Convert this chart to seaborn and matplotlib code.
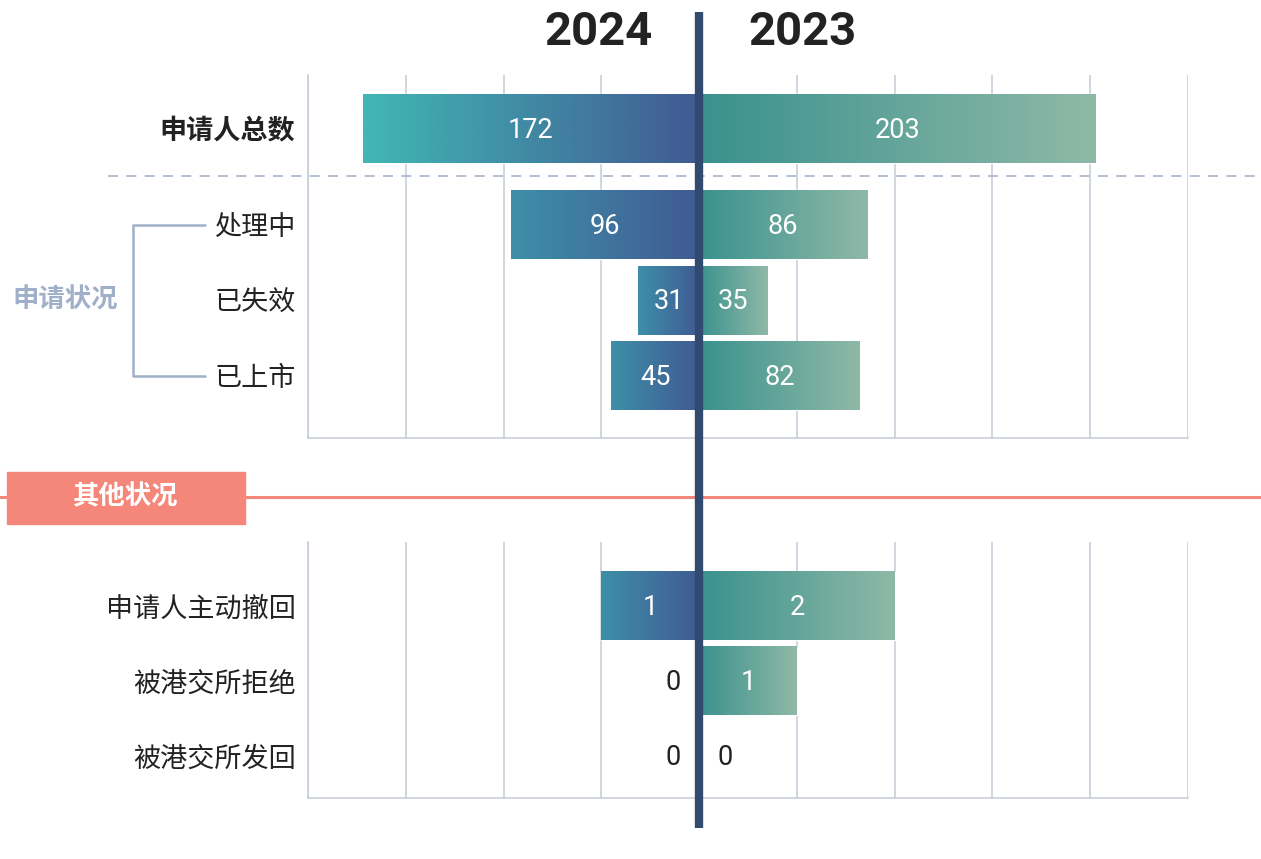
import numpy as np
import pandas as pd
import matplotlib.pyplot as plt
import matplotlib.transforms as mtransforms
from matplotlib.lines import Line2D
from matplotlib.patches import Rectangle
from matplotlib.colors import LinearSegmentedColormap
import seaborn as sns

# DATA
years = ["2024", "2023"]
top_labels = ["申请人总数", "处理中", "已失效", "已上市"]
top_pos = [0, 1.27, 2.27, 3.27]
top_2024 = [172, 96, 31, 45]
top_2023 = [203, 86, 35, 82]
group_label = "申请状况"

section2_title = "其他状况"
bottom_labels = ["申请人主动撤回", "被港交所拒绝", "被港交所发回"]
bottom_pos = [0, 1, 2]
bottom_2024 = [1, 0, 0]
bottom_2023 = [2, 1, 0]

# STYLE
sns.set_theme(style="white")
plt.rcParams["font.family"] = ["Roboto", "Noto Sans CJK SC", "DejaVu Sans"]

GRID = "#C3CAD7"
NAVY = "#314A70"
SALMON = "#F4877A"
GROUPC = "#9FB0C8"
TXT = "#222222"

left_top = LinearSegmentedColormap.from_list("lt", ["#41B7B4", "#415A93"])
left_cm = LinearSegmentedColormap.from_list("l", ["#3E8FA8", "#415A93"])
right_cm = LinearSegmentedColormap.from_list("r", ["#3A918E", "#8FB9A7"])

fig = plt.figure(figsize=(12.61, 8.59), dpi=100)
W, H = 1261, 859


def px_axes(x0, y0, x1, y1):
    return fig.add_axes([x0 / W, 1 - y1 / H, (x1 - x0) / W, (y1 - y0) / H])


ax_top = px_axes(308, 75, 1188, 438)
ax_bot = px_axes(308, 542, 1188, 798)


def draw_side(ax, pos, left_vals, right_vals, xlim, ticks, ylim, labels, top_first_cm=False):
    df_l = pd.DataFrame({"pos": pos, "val": [-v for v in left_vals]})
    df_r = pd.DataFrame({"pos": pos, "val": right_vals})
    sns.barplot(data=df_l, x="val", y="pos", orient="y", native_scale=True,
                width=0.91, color="#3E7FA0", errorbar=None, ax=ax)
    sns.barplot(data=df_r, x="val", y="pos", orient="y", native_scale=True,
                width=0.91, color="#5FA89D", errorbar=None, ax=ax)
    grad = np.linspace(0, 1, 256).reshape(1, -1)
    n = len(pos)
    for i, p in enumerate(ax.patches):
        bx, by, bw, bh = p.get_x(), p.get_y(), p.get_width(), p.get_height()
        if abs(bw) < 1e-9:
            continue
        x0, x1 = min(bx, bx + bw), max(bx, bx + bw)
        if i < n:
            cm = left_top if (top_first_cm and i == 0) else left_cm
        else:
            cm = right_cm
        ax.imshow(grad, cmap=cm, aspect="auto", extent=(x0, x1, by + bh, by),
                  zorder=p.get_zorder() + 0.1, interpolation="bicubic")
    # value labels
    for p_, lv, rv in zip(pos, left_vals, right_vals):
        for v, sgn in ((lv, -1), (rv, 1)):
            if v > 0:
                ax.text(sgn * v / 2, p_ + 0.02, str(v), color="white", ha="center",
                        va="center", fontsize=19.5, zorder=5)
            else:
                ax.annotate("0", (0, p_ + 0.02), xytext=(sgn * 13, 0), textcoords="offset points",
                            ha="left" if sgn > 0 else "right", va="center",
                            color=TXT, fontsize=19.5, zorder=5)
    ax.set_xlim(*xlim)
    ax.set_ylim(*ylim)
    ax.set_xticks(ticks)
    ax.set_xticklabels([])
    ax.grid(axis="x", color=GRID, lw=1.1)
    ax.grid(axis="y", visible=False)
    ax.set_axisbelow(True)
    for s in ("top", "right"):
        ax.spines[s].set_visible(False)
    for s in ("left", "bottom"):
        ax.spines[s].set_color(GRID)
        ax.spines[s].set_linewidth(1.1)
    ax.set_yticks(pos)
    ax.set_yticklabels(labels, fontsize=19.5, color=TXT)
    ax.tick_params(axis="both", length=0, pad=9)
    ax.set_xlabel("")
    ax.set_ylabel("")


draw_side(ax_top, top_pos, top_2024, top_2023, (-200, 250), np.arange(-200, 251, 50),
          (4.09, -0.71), top_labels, top_first_cm=True)
draw_side(ax_bot, bottom_pos, bottom_2024, bottom_2023, (-4, 5), np.arange(-4, 6, 1),
          (2.56, -0.85), bottom_labels)
ax_top.get_yticklabels()[0].set_fontweight("bold")

# bracket for the group
tr = mtransforms.blended_transform_factory(ax_top.transAxes, ax_top.transData)
bx0, bx1 = (133 - 308) / 880, (205 - 308) / 880
ax_top.plot([bx1, bx0, bx0, bx1], [top_pos[1], top_pos[1], top_pos[3], top_pos[3]],
            transform=tr, clip_on=False, color=GROUPC, lw=1.8)
ax_top.text((65 - 308) / 880, top_pos[2], group_label, transform=tr, ha="center",
            va="center", fontsize=19, fontweight="bold", color=GROUPC)

# dashed separator
fig.add_artist(Line2D([108 / W, 1], [1 - 176 / H] * 2, color="#A6B4CB", lw=1.2,
                      dashes=(6, 5)))

# section 2 band
fig.add_artist(Line2D([0, 1], [1 - 497 / H] * 2, color=SALMON, lw=2.2))
fig.add_artist(Rectangle((7 / W, 1 - 524 / H), 238 / W, 52 / H, color=SALMON,
                         transform=fig.transFigure))
fig.text(126 / W, 1 - 497 / H, section2_title, ha="center", va="center", fontsize=19,
         fontweight="bold", color="white")

# centre line
ctr = mtransforms.blended_transform_factory(ax_top.transData, fig.transFigure)
fig.add_artist(Line2D([0, 0], [1 - 12 / H, 1 - 828 / H], transform=ctr, color=NAVY,
                      lw=6, solid_capstyle="butt", zorder=10))

# year headers
fig.text(-24, 1 - 45 / H, years[0], transform=ctr, ha="right", va="baseline",
         fontsize=34, fontweight="bold", color=TXT)
fig.text(25, 1 - 45 / H, years[1], transform=ctr, ha="left", va="baseline",
         fontsize=34, fontweight="bold", color=TXT)

fig.savefig("out.png", dpi=100)
